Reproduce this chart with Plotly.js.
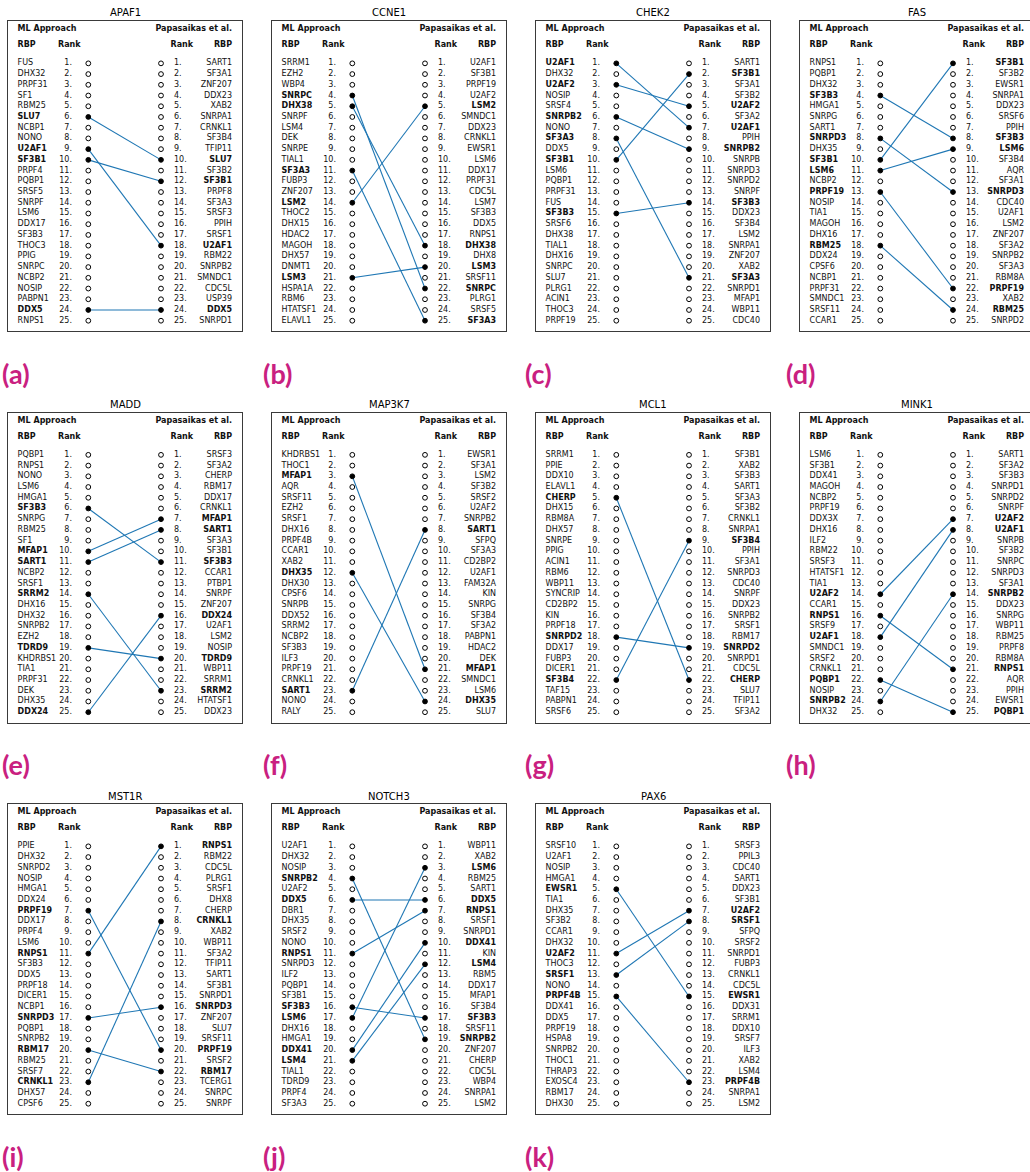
<!DOCTYPE html>
<html><head><meta charset="utf-8">
<script src="https://cdn.plot.ly/plotly-3.0.1.min.js"></script>
<style>html,body{margin:0;padding:0;background:#fff;overflow:hidden}</style>
</head><body><div id="chart" style="width:1030px;height:1172px"></div>
<script>
const panelTitles = ['APAF1','CCNE1','CHEK2','FAS','MADD','MAP3K7','MCL1','MINK1','MST1R','NOTCH3','PAX6'];
const panelLetters = ['(a)','(b)','(c)','(d)','(e)','(f)','(g)','(h)','(i)','(j)','(k)'];

const apaf1ML = ['FUS','DHX32','PRPF31','SF1','RBM25','SLU7','NCBP1','NONO','U2AF1','SF3B1','PRPF4','PQBP1','SRSF5','SNRPF','LSM6','DDX17','SF3B3','THOC3','PPIG','SNRPC','NCBP2','NOSIP','PABPN1','DDX5','RNPS1'];
const apaf1Pap = ['SART1','SF3A1','ZNF207','DDX23','XAB2','SNRPA1','CRNKL1','SF3B4','TFIP11','SLU7','SF3B2','SF3B1','PRPF8','SF3A3','SRSF3','PPIH','SRSF1','U2AF1','RBM22','SNRPB2','SMNDC1','CDC5L','USP39','DDX5','SNRPD1'];

const ccne1ML = ['SRRM1','EZH2','WBP4','SNRPC','DHX38','SNRPF','LSM4','DEK','SNRPE','TIAL1','SF3A3','FUBP3','ZNF207','LSM2','THOC2','DHX15','HDAC2','MAGOH','DHX57','DNMT1','LSM3','HSPA1A','RBM6','HTATSF1','ELAVL1'];
const ccne1Pap = ['U2AF1','SF3B1','PRPF19','U2AF2','LSM2','SMNDC1','DDX23','CRNKL1','EWSR1','LSM6','DDX17','PRPF31','CDC5L','LSM7','SF3B3','DDX5','RNPS1','DHX38','DHX8','LSM3','SRSF11','SNRPC','PLRG1','SRSF5','SF3A3'];

const chek2ML = ['U2AF1','DHX32','U2AF2','NOSIP','SRSF4','SNRPB2','NONO','SF3A3','DDX5','SF3B1','LSM6','PQBP1','PRPF31','FUS','SF3B3','SRSF6','DHX38','TIAL1','DHX16','SNRPC','SLU7','PLRG1','ACIN1','THOC3','PRPF19'];
const chek2Pap = ['SART1','SF3B1','SF3A1','SF3B2','U2AF2','SF3A2','U2AF1','PPIH','SNRPB2','SNRPB','SNRPD3','SNRPD2','SNRPF','SF3B3','DDX23','SF3B4','LSM2','SNRPA1','ZNF207','XAB2','SF3A3','SNRPD1','MFAP1','WBP11','CDC40'];

const fasML = ['RNPS1','PQBP1','DHX32','SF3B3','HMGA1','SNRPG','SART1','SNRPD3','DHX35','SF3B1','LSM6','NCBP2','PRPF19','NOSIP','TIA1','MAGOH','DHX16','RBM25','DDX24','CPSF6','NCBP1','PRPF31','SMNDC1','SRSF11','CCAR1'];
const fasPap = ['SF3B1','SF3B2','EWSR1','SNRPA1','DDX23','SRSF6','PPIH','SF3B3','LSM6','SF3B4','AQR','SF3A1','SNRPD3','CDC40','U2AF1','LSM2','ZNF207','SF3A2','SNRPB2','SF3A3','RBM8A','PRPF19','XAB2','RBM25','SNRPD2'];

const maddML = ['PQBP1','RNPS1','NONO','LSM6','HMGA1','SF3B3','SNRPG','RBM25','SF1','MFAP1','SART1','NCBP2','SRSF1','SRRM2','DHX16','DHX32','SNRPB2','EZH2','TDRD9','KHDRBS1','TIA1','PRPF31','DEK','DHX35','DDX24'];
const maddPap = ['SRSF3','SF3A2','CHERP','RBM17','DDX17','CRNKL1','MFAP1','SART1','SF3A3','SF3B1','SF3B3','CCAR1','PTBP1','SNRPF','ZNF207','DDX24','U2AF1','LSM2','NOSIP','TDRD9','WBP11','SRRM1','SRRM2','HTATSF1','DDX23'];

const map3k7ML = ['KHDRBS1','THOC1','MFAP1','AQR','SRSF11','EZH2','SRSF1','DHX16','PRPF4B','CCAR1','XAB2','DHX35','DHX30','CPSF6','SNRPB','DDX52','SRRM2','NCBP2','SF3B3','ILF3','PRPF19','CRNKL1','SART1','NONO','RALY'];
const map3k7Pap = ['EWSR1','SF3A1','LSM2','SF3B2','SRSF2','U2AF2','SNRPB2','SART1','SFPQ','SF3A3','CD2BP2','U2AF1','FAM32A','KIN','SNRPG','SF3B4','SF3A2','PABPN1','HDAC2','DEK','MFAP1','SMNDC1','LSM6','DHX35','SLU7'];

const mcl1ML = ['SRRM1','PPIE','DDX10','ELAVL1','CHERP','DHX15','RBM8A','DHX57','SNRPE','PPIG','ACIN1','RBM6','WBP11','SYNCRIP','CD2BP2','KIN','PRPF18','SNRPD2','DDX17','FUBP3','DICER1','SF3B4','TAF15','PABPN1','SRSF6'];
const mcl1Pap = ['SF3B1','XAB2','SF3B3','SART1','SF3A3','SF3B2','CRNKL1','SNRPA1','SF3B4','PPIH','SF3A1','SNRPD3','CDC40','SNRPF','DDX23','SNRPB2','SRSF1','RBM17','SNRPD2','SNRPD1','CDC5L','CHERP','SLU7','TFIP11','SF3A2'];

const mink1ML = ['LSM6','SF3B1','DDX41','MAGOH','NCBP2','PRPF19','DDX3X','DHX16','ILF2','RBM22','SRSF3','HTATSF1','TIA1','U2AF2','CCAR1','RNPS1','SRSF9','U2AF1','SMNDC1','SRSF2','CRNKL1','PQBP1','NOSIP','SNRPB2','DHX32'];
const mink1Pap = ['SART1','SF3A2','SF3B3','SNRPD1','SNRPD2','SNRPF','U2AF2','U2AF1','SNRPB','SF3B2','SNRPC','SNRPD3','SF3A1','SNRPB2','DDX23','SNRPG','WBP11','RBM25','PRPF8','RBM8A','RNPS1','AQR','PPIH','EWSR1','PQBP1'];

const mst1rML = ['PPIE','DHX32','SNRPD2','NOSIP','HMGA1','DDX24','PRPF19','DDX17','PRPF4','LSM6','RNPS1','SF3B3','DDX5','PRPF18','DICER1','NCBP1','SNRPD3','PQBP1','SNRPB2','RBM17','RBM25','SRSF7','CRNKL1','DHX57','CPSF6'];
const mst1rPap = ['RNPS1','RBM22','CDC5L','PLRG1','SRSF1','DHX8','CHERP','CRNKL1','XAB2','WBP11','SF3A2','TFIP11','SART1','SF3B1','SNRPD1','SNRPD3','ZNF207','SLU7','SRSF11','PRPF19','SRSF2','RBM17','TCERG1','SNRPC','SNRPF'];

const notch3ML = ['U2AF1','DHX32','NOSIP','SNRPB2','U2AF2','DDX5','DBR1','DHX35','SRSF2','NONO','RNPS1','SNRPD3','ILF2','PQBP1','SF3B1','SF3B3','LSM6','DHX16','HMGA1','DDX41','LSM4','TIAL1','TDRD9','PRPF4','SF3A3'];
const notch3Pap = ['WBP11','XAB2','LSM6','RBM25','SART1','DDX5','RNPS1','SRSF1','SNRPD1','DDX41','KIN','LSM4','RBM5','DDX17','MFAP1','SF3B4','SF3B3','SRSF11','SNRPB2','ZNF207','CHERP','CDC5L','WBP4','SNRPA1','LSM2'];

const pax6ML = ['SRSF10','U2AF1','NOSIP','HMGA1','EWSR1','TIA1','DHX35','SF3B2','CCAR1','DHX32','U2AF2','THOC3','SRSF1','NONO','PRPF4B','DDX41','DDX5','PRPF19','HSPA8','SNRPB2','THOC1','THRAP3','EXOSC4','RBM17','DHX30'];
const pax6Pap = ['SRSF3','PPIL3','CDC40','SART1','DDX23','SF3B1','U2AF2','SRSF1','SFPQ','SRSF2','SNRPD1','FUBP3','CRNKL1','CDC5L','EWSR1','DDX31','SRRM1','DDX10','SRSF7','ILF3','XAB2','LSM4','PRPF4B','SNRPA1','LSM2'];

const mlLists = [apaf1ML, ccne1ML, chek2ML, fasML, maddML, map3k7ML, mcl1ML, mink1ML, mst1rML, notch3ML, pax6ML];
const papLists = [apaf1Pap, ccne1Pap, chek2Pap, fasPap, maddPap, map3k7Pap, mcl1Pap, mink1Pap, mst1rPap, notch3Pap, pax6Pap];

// ---- layout geometry (pixels) ----
const W = 1030, H = 1172;
const colLeft = [8, 272, 536, 800];
const rowTop = [21, 412.5, 804];
const boxW = 234, boxH = 310;
const yTopVal = -2.95, yBotVal = 25.96;
const X = {lName: 9.6, lRankHdr: 50, lRank: 64, lDot: 80.3, rDot: 153, rRankHdr: 162.5, rRank: 166, rName: 224};
const HDR1 = -2.2, HDR2 = -0.71;
const FONT = 'DejaVu Sans, Verdana, sans-serif';
const TXT = '#111';
const LINEC = '#1f77b4';

const traces = [];
const annotations = [];
const layout = {
  width: W, height: H,
  margin: {l: 0, r: 0, t: 0, b: 0},
  paper_bgcolor: '#fff', plot_bgcolor: '#fff',
  showlegend: false,
  font: {family: FONT, size: 8, color: TXT},
  hovermode: false
};

function txtTrace(xa, ya, xs, ys, texts, pos, size) {
  return {type: 'scatter', mode: 'text', x: xs, y: ys, text: texts, textposition: pos,
    textfont: {family: FONT, size: size || 8, color: TXT}, xaxis: xa, yaxis: ya,
    hoverinfo: 'skip', cliponaxis: false};
}

mlLists.forEach((ml, i) => {
  const pap = papLists[i];
  const r = Math.floor(i / 4), c = i % 4;
  const left = colLeft[c], top = rowTop[r];
  const right = Math.min(left + boxW, W);
  const id = i === 0 ? '' : String(i + 1);
  const xa = 'x' + id, ya = 'y' + id;
  const full = (right - left) >= boxW - 0.5;
  layout['xaxis' + id] = {domain: [left / W, right / W], range: [0, right - left], anchor: ya,
    showline: true, mirror: true, linecolor: '#3a3a3a', linewidth: 1,
    showgrid: false, zeroline: false, showticklabels: false, ticks: '', fixedrange: true};
  layout['yaxis' + id] = {domain: [1 - (top + boxH) / H, 1 - top / H], range: [yBotVal, yTopVal], anchor: xa,
    showline: true, mirror: full, linecolor: '#3a3a3a', linewidth: 1,
    showgrid: false, zeroline: false, showticklabels: false, ticks: '', fixedrange: true};

  const ranks = ml.map((_, k) => k + 1);
  const rankLbl = ranks.map(v => v + '.');
  const papSet = new Set(pap), mlSet = new Set(ml);

  // connecting lines
  const lx = [], ly = [];
  ml.forEach((name, k) => {
    const j = pap.indexOf(name);
    if (j >= 0) { lx.push(X.lDot, X.rDot, null); ly.push(k + 1, j + 1, null); }
  });
  traces.push({type: 'scatter', mode: 'lines', x: lx, y: ly, xaxis: xa, yaxis: ya,
    line: {color: LINEC, width: 1.1}, hoverinfo: 'skip', cliponaxis: false});

  // markers
  traces.push({type: 'scatter', mode: 'markers', x: ranks.map(() => X.lDot), y: ranks, xaxis: xa, yaxis: ya,
    marker: {size: 4.8, color: ml.map(n => papSet.has(n) ? '#000' : '#fff'), line: {color: '#000', width: 1}},
    hoverinfo: 'skip', cliponaxis: false});
  traces.push({type: 'scatter', mode: 'markers', x: ranks.map(() => X.rDot), y: ranks, xaxis: xa, yaxis: ya,
    marker: {size: 4.8, color: pap.map(n => mlSet.has(n) ? '#000' : '#fff'), line: {color: '#000', width: 1}},
    hoverinfo: 'skip', cliponaxis: false});

  // row texts
  traces.push(txtTrace(xa, ya, ranks.map(() => X.lName), ranks, ml.map(n => papSet.has(n) ? '<b>' + n + '</b>' : n), 'middle right'));
  traces.push(txtTrace(xa, ya, ranks.map(() => X.lRank), ranks, rankLbl, 'middle left'));
  traces.push(txtTrace(xa, ya, ranks.map(() => X.rRank), ranks, rankLbl, 'middle right'));
  traces.push(txtTrace(xa, ya, ranks.map(() => X.rName), ranks, pap.map(n => mlSet.has(n) ? '<b>' + n + '</b>' : n), 'middle left'));

  // headers
  traces.push(txtTrace(xa, ya, [X.lName, X.lName, X.lRankHdr, X.rRankHdr], [HDR1, HDR2, HDR2, HDR2],
    ['<b>ML Approach</b>', '<b>RBP</b>', '<b>Rank</b>', '<b>Rank</b>'], 'middle right'));
  traces.push(txtTrace(xa, ya, [X.rName, X.rName], [HDR1, HDR2],
    ['<b>Papasaikas et al.</b>', '<b>RBP</b>'], 'middle left'));

  // title
  annotations.push({text: panelTitles[i], xref: 'paper', yref: 'paper',
    x: (left + boxW / 2) / W, y: 1 - (top - 8) / H, xanchor: 'center', yanchor: 'middle',
    showarrow: false, font: {family: FONT, size: 10, color: '#000'}});
  // panel letter
  annotations.push({text: '<b>' + panelLetters[i] + '</b>', xref: 'paper', yref: 'paper',
    x: (c * 261.3) / W, y: 1 - (top + boxH + 42) / H, xanchor: 'left', yanchor: 'middle',
    showarrow: false, font: {family: 'Lato, Open Sans, sans-serif', size: 27, color: '#c92080'}});
});

layout.annotations = annotations;
Plotly.newPlot('chart', traces, layout, {staticPlot: true, displayModeBar: false});
</script>
</body></html>
